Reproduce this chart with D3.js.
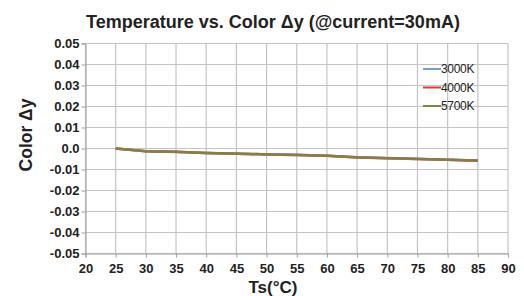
<!DOCTYPE html>
<html><head><meta charset="utf-8">
<script src="https://cdn.jsdelivr.net/npm/d3@7"></script>
<style>body{margin:0;background:#fff}svg{display:block}</style>
</head><body>
<script>
const temps = [25,30,35,40,45,50,55,60,65,70,75,80,85];
const s3000 = [0.0,-0.0013,-0.0016,-0.0021,-0.0024,-0.0027,-0.0030,-0.0034,-0.0042,-0.0045,-0.0049,-0.0053,-0.0057];
const s4000 = [0.0,-0.0013,-0.0016,-0.0022,-0.0025,-0.0028,-0.0031,-0.0035,-0.0043,-0.0046,-0.0050,-0.0054,-0.0058];
const s5700 = [0.0,-0.0013,-0.0017,-0.0022,-0.0025,-0.0028,-0.0031,-0.0035,-0.0042,-0.0046,-0.0050,-0.0054,-0.0057];
const seriesNames = ["3000K","4000K","5700K"];
const seriesColors = ["#7b9cc8","#d84040","#7f8444"];
const xTicks = [20,25,30,35,40,45,50,55,60,65,70,75,80,85,90];
const yTicks = [0.05,0.04,0.03,0.02,0.01,0,-0.01,-0.02,-0.03,-0.04,-0.05];
const yTickLabels = ["0.05","0.04","0.03","0.02","0.01","0.0","-0.01","-0.02","-0.03","-0.04","-0.05"];

const W=524,H=296;
const svg=d3.select("body").append("svg").attr("width",W).attr("height",H);
const x=d3.scaleLinear().domain([20,90]).range([85.5,508]);
const y=d3.scaleLinear().domain([-0.05,0.05]).range([253.5,43.5]);
const font="Liberation Sans, Arial, sans-serif";

// gridlines
svg.append("g").selectAll("line.v").data(xTicks).join("line")
  .attr("x1",d=>x(d)).attr("x2",d=>x(d)).attr("y1",y(0.05)).attr("y2",y(-0.05))
  .attr("stroke","#c4c4c4").attr("stroke-width",1.2);
svg.append("g").selectAll("line.h").data(yTicks).join("line")
  .attr("x1",x(20)).attr("x2",x(90)).attr("y1",d=>y(d)).attr("y2",d=>y(d))
  .attr("stroke","#c4c4c4").attr("stroke-width",1.2);

// axes
const yAxis=d3.axisLeft(y).tickValues(yTicks).tickFormat((d,i)=>yTickLabels[i]).tickSize(4).tickPadding(2);
const gy=svg.append("g").attr("transform",`translate(${x(20)},0)`).call(yAxis);
gy.select(".domain").attr("stroke","#a0a0a0");
gy.selectAll(".tick line").attr("stroke","#a0a0a0");
gy.selectAll("text").attr("font-family",font).attr("font-weight","bold").attr("font-size",13).attr("fill","#222");

const xAxis=d3.axisBottom(x).tickValues(xTicks).tickSize(4).tickPadding(6);
const gx=svg.append("g").attr("transform",`translate(0,${y(-0.05)})`).call(xAxis);
gx.select(".domain").attr("stroke","#a0a0a0");
gx.selectAll(".tick line").attr("stroke","#a0a0a0");
gx.selectAll("text").attr("font-family",font).attr("font-weight","bold").attr("font-size",13).attr("fill","#222");

// lines
const data=[s3000,s4000,s5700];
const line=d3.line().x((d,i)=>x(temps[i])).y(d=>y(d));
data.forEach((s,k)=>{
  svg.append("path").datum(s).attr("d",line).attr("fill","none")
    .attr("stroke",seriesColors[k]).attr("stroke-width",2.5).attr("opacity",0.9);
});

// legend
const lg=svg.append("g");
seriesNames.forEach((n,k)=>{
  const yy=69+k*18.5;
  lg.append("line").attr("x1",423).attr("x2",441).attr("y1",yy).attr("y2",yy)
    .attr("stroke",seriesColors[k]).attr("stroke-width",2);
  lg.append("text").attr("x",441).attr("y",yy+4).text(n)
    .attr("font-family",font).attr("font-size",12).attr("fill","#222").attr("letter-spacing",-0.3);
});

// title
svg.append("text").attr("x",273).attr("y",28).attr("text-anchor","middle")
  .attr("font-family",font).attr("font-weight","bold").attr("font-size",18).attr("fill","#222")
  .text("Temperature vs. Color Δy (@current=30mA)");
svg.append("text").attr("transform","translate(32,135) rotate(-90)").attr("text-anchor","middle")
  .attr("font-family",font).attr("font-weight","bold").attr("font-size",17.5).attr("fill","#222")
  .text("Color Δy");
svg.append("text").attr("x",273).attr("y",293).attr("text-anchor","middle")
  .attr("font-family",font).attr("font-weight","bold").attr("font-size",17).attr("fill","#222")
  .text("Ts(°C)");
</script>
</body></html>
